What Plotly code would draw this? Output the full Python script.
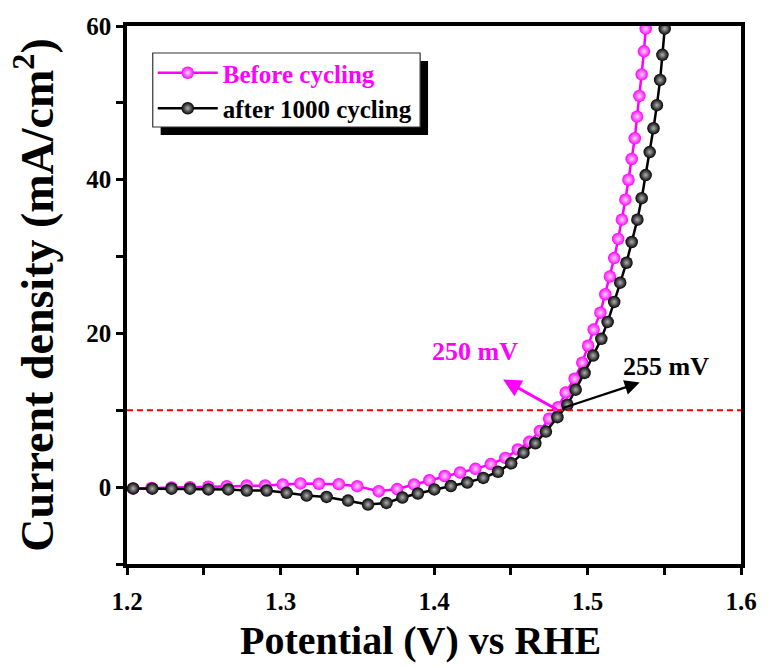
import plotly.graph_objects as go

before_x = [1.204, 1.216, 1.229, 1.241, 1.253, 1.265, 1.278, 1.290, 1.3015, 1.313, 1.325, 1.338, 1.350, 1.364,
            1.376, 1.387, 1.397, 1.407, 1.417, 1.427, 1.437, 1.4465, 1.4546, 1.4621, 1.469, 1.475, 1.4809,
            1.4858, 1.4916, 1.4966, 1.5004, 1.504, 1.5084, 1.5116, 1.5146, 1.5174, 1.52, 1.5224, 1.5247,
            1.5267, 1.5288, 1.5308, 1.5323, 1.5338, 1.5353, 1.5368, 1.5379]
before_y = [-0.2, -0.1, -0.05, 0.0, 0.05, 0.13, 0.22, 0.22, 0.35, 0.48, 0.44, 0.39, 0.13, -0.52,
            -0.25, 0.35, 0.9, 1.45, 1.9, 2.38, 3.0, 3.8, 4.9, 5.9, 7.3, 8.9, 10.4,
            12.3, 14.1, 16.2, 18.4, 20.5, 22.7, 25.1, 27.4, 29.8, 32.3, 34.8, 37.4,
            40.0, 42.7, 45.4, 48.2, 50.9, 53.7, 56.7, 59.65]

after_x = [1.204, 1.2165, 1.229, 1.241, 1.253, 1.266, 1.278, 1.291, 1.304, 1.317, 1.330, 1.344, 1.357, 1.369,
           1.3794, 1.3895, 1.4002, 1.411, 1.4217, 1.4321, 1.4417, 1.4503, 1.4583, 1.466, 1.4729, 1.4804,
           1.4869, 1.4923, 1.4981, 1.5037, 1.509, 1.5131, 1.5174, 1.5213, 1.5254, 1.5288, 1.5325, 1.5353,
           1.5379, 1.5405, 1.543, 1.5452, 1.5473, 1.5488, 1.5503]
after_y = [-0.17, -0.2, -0.2, -0.2, -0.3, -0.3, -0.44, -0.44, -0.74, -1.1, -1.27, -1.75, -2.27, -2.05,
           -1.35, -0.83, -0.3, 0.15, 0.6, 1.2, 2.0, 3.1, 4.49, 5.71, 7.23, 9.11,
           10.72, 12.68, 14.86, 17.12, 19.3, 21.5, 24.1, 26.6, 29.2, 31.9, 34.8, 37.6,
           40.6, 43.6, 46.7, 49.7, 52.98, 56.25, 59.65]

x_ticks = [1.2, 1.25, 1.3, 1.35, 1.4, 1.45, 1.5, 1.55, 1.6]
x_ticktext = ["<b>1.2</b>", "", "<b>1.3</b>", "", "<b>1.4</b>", "", "<b>1.5</b>", "", "<b>1.6</b>"]
y_ticks = [-10, 0, 10, 20, 30, 40, 50, 60]
y_ticktext = ["", "<b>0</b>", "", "<b>20</b>", "", "<b>40</b>", "", "<b>60</b>"]

ref_level = 10
label_before = "250 mV"
label_after = "255 mV"

FONT = "Liberation Serif"
PINK = "#ff00ff"

# plot area in pixels
L, R, T, B = 127, 747, 26, 564
W, H = R - L, B - T


def px_x(p):
    return (p - L) / W


def px_y(p):
    return (B - p) / H


fig = go.Figure()
fig.add_trace(go.Scatter(
    x=before_x, y=before_y, mode="lines+markers",
    name="<b><span style='color:#ff00ff'>Before cycling</span></b>",
    line=dict(color=PINK, width=2.5),
    marker=dict(color=PINK, size=12.5, gradient=dict(type="radial", color="#ffd6ff"),
                line=dict(width=0)),
))
fig.add_trace(go.Scatter(
    x=after_x, y=after_y, mode="lines+markers", name="<b>after 1000 cycling</b>",
    line=dict(color="black", width=2.5),
    marker=dict(color="black", size=12.5, gradient=dict(type="radial", color="#b0b0b0"),
                line=dict(width=0)),
))

# reference dashed line at 10 mA/cm2
fig.add_shape(type="line", xref="x", yref="y", x0=1.2, x1=1.6, y0=ref_level, y1=ref_level,
              line=dict(color="red", width=2, dash="6px,4px"), layer="above")

# legend shadow and box
fig.add_shape(type="rect", xref="paper", yref="paper",
              x0=px_x(161), x1=px_x(431), y0=px_y(135), y1=px_y(61),
              fillcolor="black", line=dict(width=0), layer="above")
fig.add_shape(type="rect", xref="paper", yref="paper",
              x0=px_x(153), x1=px_x(423), y0=px_y(127), y1=px_y(53),
              fillcolor="white", line=dict(width=1.2, color="#333333"), layer="above")

fig.add_annotation(x=1.445, y=14.0, ax=1.481, ay=10.0, xref="x", yref="y", axref="x", ayref="y",
                   showarrow=True, arrowhead=2, arrowsize=1.2, arrowwidth=3, arrowcolor=PINK, text="")
fig.add_annotation(x=1.534, y=13.6, ax=1.4825, ay=10.2, xref="x", yref="y", axref="x", ayref="y",
                   showarrow=True, arrowhead=2, arrowsize=1.3, arrowwidth=2.3, arrowcolor="black", text="")
fig.add_annotation(x=1.4265, y=17.7, xref="x", yref="y", text="<b>" + label_before + "</b>",
                   showarrow=False, font=dict(family=FONT, size=26, color=PINK))
fig.add_annotation(x=1.5514, y=15.7, xref="x", yref="y", text="<b>" + label_after + "</b>",
                   showarrow=False, font=dict(family=FONT, size=26, color="black"))

# x-axis title
fig.add_annotation(x=px_x(423), y=(668 - 640 - (668 - B)) / H, xref="paper", yref="paper",
                   text="<b>Potential (V) vs RHE</b>", showarrow=False,
                   xanchor="center", yanchor="middle",
                   font=dict(family=FONT, size=40, color="black"))

axis_common = dict(showline=True, linecolor="black", linewidth=3.5, mirror=True,
                   ticks="outside", ticklen=7, tickwidth=3, tickcolor="black",
                   showgrid=False, zeroline=False,
                   tickfont=dict(family=FONT, size=25, color="black"))

fig.update_layout(
    width=769, height=668,
    margin=dict(l=L, r=769 - R, t=T, b=668 - B),
    paper_bgcolor="white", plot_bgcolor="white",
    showlegend=True,
    legend=dict(x=px_x(153), y=px_y(50), xanchor="left", yanchor="top",
                bgcolor="rgba(0,0,0,0)", borderwidth=0,
                font=dict(family=FONT, size=25, color="black"),
                itemwidth=60, tracegroupgap=0),
    xaxis=dict(range=[1.2, 1.6], tickvals=x_ticks, ticktext=x_ticktext,
               ticklabelstandoff=5, **axis_common),
    yaxis=dict(range=[-10, 60], tickvals=y_ticks, ticktext=y_ticktext,
               title=dict(text="<b>Current density (mA/cm<sup>2</sup>)</b>",
                          font=dict(family=FONT, size=46, color="black"), standoff=19),
               **axis_common),
)
fig.write_html("out.html")
